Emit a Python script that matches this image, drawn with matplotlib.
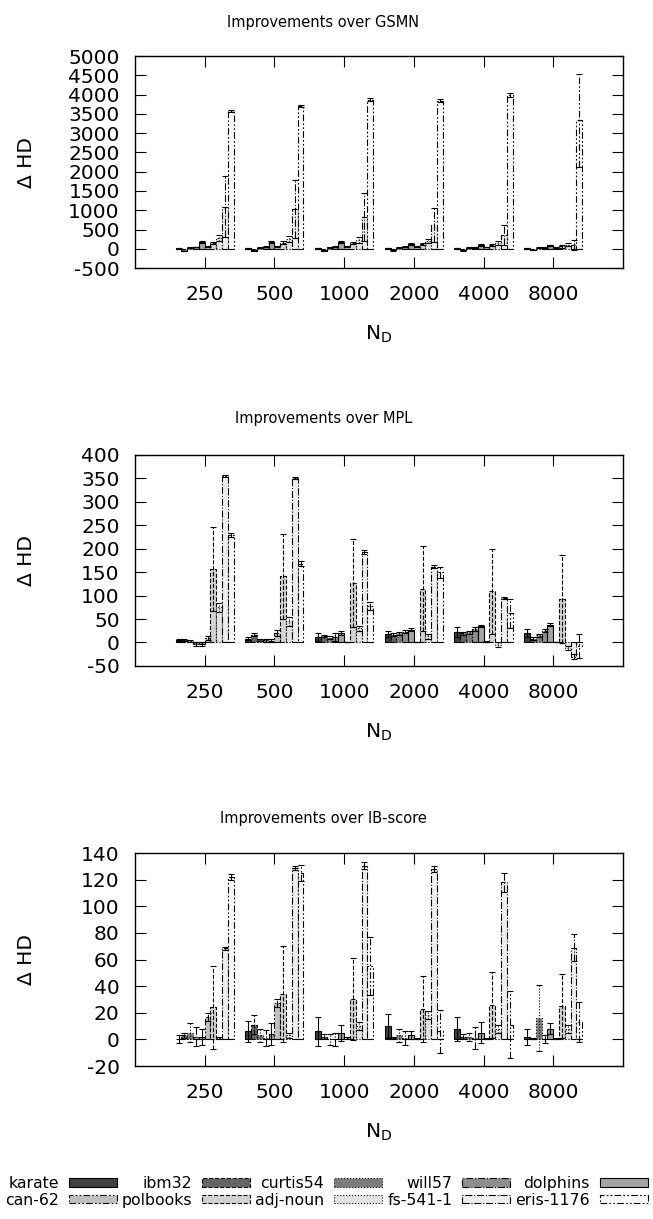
import numpy as np
import matplotlib
matplotlib.use('Agg')
import matplotlib.pyplot as plt
from matplotlib.patches import Patch

plt.rcParams['axes.unicode_minus'] = False

nd_labels = ['250', '500', '1000', '2000', '4000', '8000']
series = ['karate', 'ibm32', 'curtis54', 'will57', 'dolphins',
          'can-62', 'polbooks', 'adj-noun', 'fs-541-1', 'eris-1176']

# rows = N_D groups, columns = series (same order as above)
gsmn = [[15, -55, 40, 45, 170, 60, 150, 290, 1090, 3580],
        [15, -50, 40, 50, 180, 60, 160, 260, 1030, 3715],
        [15, -45, 40, 50, 180, 55, 150, 230, 830, 3870],
        [15, -40, 40, 50, 130, 50, 120, 200, 610, 3840],
        [15, -35, 35, 40, 100, 45, 100, 150, 350, 3990],
        [15, -30, 30, 35, 90, 40, 60, 100, 100, 3330]]
gsmn_err = [[10, 10, 10, 10, 20, 10, 30, 80, 790, 25],
            [10, 10, 10, 10, 20, 10, 30, 80, 750, 25],
            [10, 10, 10, 10, 20, 10, 30, 70, 620, 30],
            [10, 10, 10, 10, 20, 10, 30, 60, 440, 40],
            [10, 10, 10, 10, 20, 10, 30, 50, 260, 40],
            [10, 10, 10, 10, 20, 10, 30, 40, 130, 1210]]

mpl = [[5, 5, 3, -3, -3, 10, 157, 75, 355, 230],
       [8, 17, 5, 5, 4, 20, 141, 45, 351, 168],
       [12, 14, 10, 12, 20, 1, 126, 30, 193, 78],
       [18, 17, 20, 23, 27, 1, 115, 13, 162, 150],
       [22, 20, 22, 28, 35, 2, 109, -5, 95, 62],
       [20, 8, 15, 25, 38, 1, 93, -12, -30, -8]]
mpl_err = [[2, 2, 2, 4, 4, 4, 90, 10, 3, 4],
           [3, 3, 2, 3, 3, 6, 91, 10, 3, 5],
           [8, 3, 3, 8, 4, 1, 94, 5, 4, 8],
           [7, 3, 3, 3, 3, 1, 90, 5, 4, 12],
           [11, 3, 3, 4, 3, 1, 90, 5, 3, 31],
           [9, 3, 3, 3, 3, 1, 94, 5, 5, 26]]

ib = [[0, 3, 5, 2, 2, 17, 24, 1, 68.5, 122],
      [6, 11, 3, 1, 4, 27, 34, 3, 129, 125],
      [6, 2, 0, 0, 5, 1, 30.5, 10, 130.5, 55],
      [10, 1, 3, 1, 3, 0.5, 23, 18, 128, 6],
      [8, 2, 2, 1, 5, 0.5, 26, 8, 118, 11],
      [2, 0.5, 16, 0, 8, 0.5, 25, 8, 69, 13]]
ib_err = [[3, 2, 7, 7, 6, 3, 31, 1, 1, 2],
          [8, 7, 5, 6, 8, 3, 36, 2, 1.5, 6],
          [11, 2, 4, 5, 6, 1, 31, 3, 2.5, 22],
          [9, 1, 5, 5, 3, 0.5, 25, 3, 2, 16],
          [9, 2, 3, 8, 8, 0.5, 25, 3, 7, 25],
          [6, 0.5, 25, 3, 4, 0.5, 24, 3, 10, 15]]

fills = ['#404040', '#646464', '#7c7c7c', '#8e8e8e', '#a4a4a4',
         '#c0c0c0', '#d2d2d2', '#e2e2e2', '#eeeeee', '#f8f8f8']
ddot = (0, (6, 2, 1.5, 2, 1.5, 2))
styles = ['-', '--', ':', '-.', '-', ddot, '--', ':', '-.', ddot]

fig = plt.figure(figsize=(6.53, 12.19), dpi=100)

panels = [('Improvements over GSMN', gsmn, gsmn_err, (-500, 5000), np.arange(-500, 5001, 500),
           [0.2067, 0.7801, 0.7473, 0.1739], 22),
          ('Improvements over MPL', mpl, mpl_err, (-50, 400), np.arange(-50, 401, 50),
           [0.2067, 0.4537, 0.7473, 0.1731], 418),
          ('Improvements over IB-score', ib, ib_err, (-20, 140), np.arange(-20, 141, 20),
           [0.2067, 0.1255, 0.7473, 0.1747], 818)]

bw = 1.0 / 12
x = np.arange(len(nd_labels))
for title, vals, errs, ylim, yt, pos, ty in panels:
    ax = fig.add_axes(pos)
    vals = np.array(vals)
    errs = np.array(errs)
    for j in range(len(series)):
        xs = x + (j - 4.5) * bw
        ax.bar(xs, vals[:, j], bw, color=fills[j], edgecolor='black',
               linewidth=0.8, linestyle=styles[j], zorder=2)
        eb = ax.errorbar(xs, vals[:, j], yerr=errs[:, j], fmt='none', ecolor='black',
                         elinewidth=0.8, capsize=2.2, capthick=0.8, zorder=3)
        eb[2][0].set_linestyle(styles[j])
    ax.set_xlim(-1, 6)
    ax.set_ylim(*ylim)
    ax.set_yticks(yt)
    ax.set_xticks(x)
    ax.set_xticklabels(nd_labels)
    ax.tick_params(direction='in', length=8, width=0.8, labelsize=14.5, pad=12.5,
                   top=True, right=True)
    ax.tick_params(axis='y', pad=11)
    for s in ax.spines.values():
        s.set_linewidth(1.0)
    ax.set_xlabel('$\\mathregular{N_D}$', fontsize=14.5, labelpad=14)
    fig.text(0.495, 1 - ty / 1219.0, title, ha='center', va='center', fontsize=10.5)
    fig.text(26 / 653.0, pos[1] + pos[3] / 2, '\u0394 HD', rotation=90,
             ha='center', va='center', fontsize=14.5)

handles = [Patch(facecolor=fills[j], edgecolor='black', linewidth=0.8,
                 linestyle=styles[j], label=series[j]) for j in range(len(series))]
order = [0, 5, 1, 6, 2, 7, 3, 8, 4, 9]
fig.legend([handles[i] for i in order], [series[i] for i in order], ncol=5,
           loc='center', bbox_to_anchor=(0.5, 1 - 1192 / 1219.0), frameon=False,
           markerfirst=False, fontsize=11.3, handlelength=3.05, handleheight=0.45,
           columnspacing=0.31, handletextpad=0.64, labelspacing=0.1,
           borderpad=0, borderaxespad=0)

fig.savefig('out.png', dpi=100)
